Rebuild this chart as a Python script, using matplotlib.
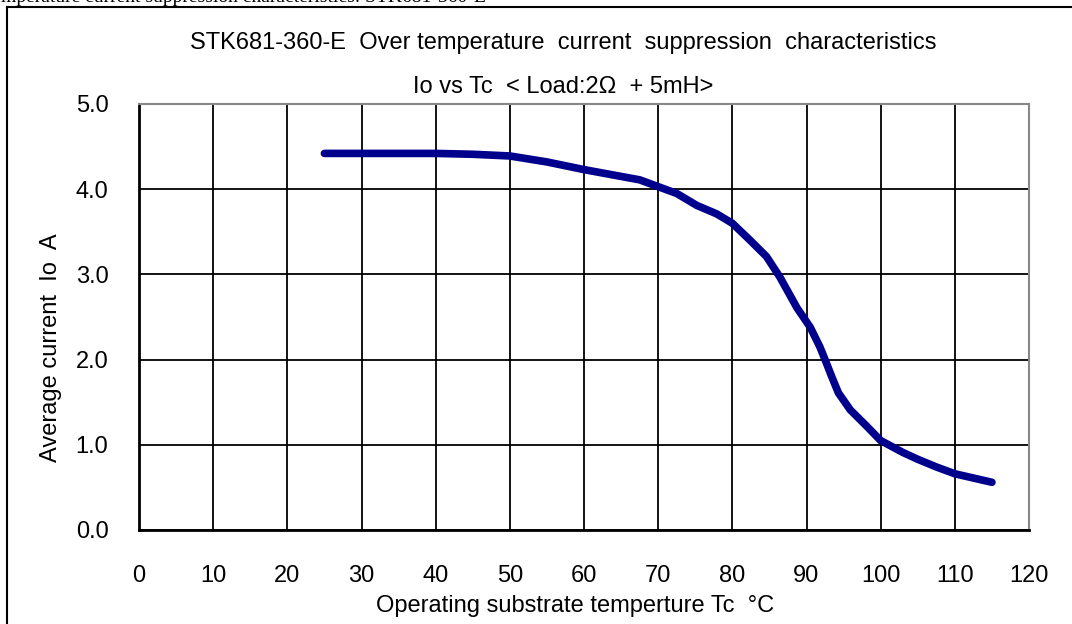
import matplotlib.pyplot as plt
from matplotlib.lines import Line2D

tc = [25, 30, 40, 45, 50, 55, 60, 65, 67.5, 70, 72.5, 75.2, 77.9, 80, 82.4, 84.6, 86.4, 88.7, 90.5, 91.8, 92.5,
	93.4, 94.3, 95.9, 98.1, 100, 103, 105, 107.5, 110, 112.5, 115]
io = [4.42, 4.42, 4.42, 4.41, 4.39, 4.32, 4.23, 4.15, 4.11, 4.03, 3.95, 3.81, 3.71, 3.60, 3.40, 3.21, 2.97, 2.61, 2.38,
	2.15, 2.00, 1.80, 1.61, 1.41, 1.22, 1.05, 0.91, 0.83, 0.74, 0.66, 0.61, 0.56]

x_ticks = list(range(0, 121, 10))
y_ticks = [0.0, 1.0, 2.0, 3.0, 4.0, 5.0]

plt.rcParams['font.family'] = ['Liberation Sans', 'DejaVu Sans']
fs = 17

fig = plt.figure(figsize=(10.72, 6.24), dpi=100)
ax = fig.add_axes([139 / 1072, 1 - 530 / 624, (1029 - 139) / 1072, (530 - 104) / 624])

ax.plot(tc, io, color='#00008c', linewidth=5.5, solid_capstyle='round', solid_joinstyle='round', zorder=3)

ax.set_xlim(0, 120)
ax.set_ylim(0, 5)
ax.set_xticks(x_ticks)
ax.set_yticks(y_ticks)
ax.set_yticklabels(['%.1f' % v for v in y_ticks])
ax.grid(True, color='black', linewidth=1.3)
ax.tick_params(length=0, labelsize=fs)
ax.tick_params(axis='x', pad=25)
ax.tick_params(axis='y', pad=22)
for s in ['left', 'bottom']:
	ax.spines[s].set_linewidth(2)
for s in ['top', 'right']:
	ax.spines[s].set_color('#888888')
	ax.spines[s].set_linewidth(1.5)

ax.set_xlabel('Operating substrate temperture Tc  \u00b0C', fontsize=fs)
ax.xaxis.set_label_coords(0.49, -0.152)
ax.set_ylabel('Average current  Io  A', fontsize=fs)
ax.yaxis.set_label_coords(-0.086, 0.427)

fig.text(0.5257, 1 - 43 / 624, 'STK681-360-E  Over temperature  current  suppression  characteristics',
	ha='center', va='center', fontsize=fs)
fig.text(0.525, 1 - 87 / 624, 'Io vs Tc  < Load:2\u03a9  + 5mH>', ha='center', va='center', fontsize=fs)

# cut-off caption line above the frame
fig.text(-0.012, 1 + 3 / 624, 'temperature current suppression characteristics: STK681-360-E',
	ha='left', va='center', fontsize=14, family='Liberation Serif')

# outer frame
fig.add_artist(Line2D([7 / 1072, 7 / 1072], [0, 1 - 7 / 624], color='black', linewidth=1.5))
fig.add_artist(Line2D([7 / 1072, 1], [1 - 7 / 624, 1 - 7 / 624], color='black', linewidth=1.5))

fig.savefig('out.png', dpi=100)
